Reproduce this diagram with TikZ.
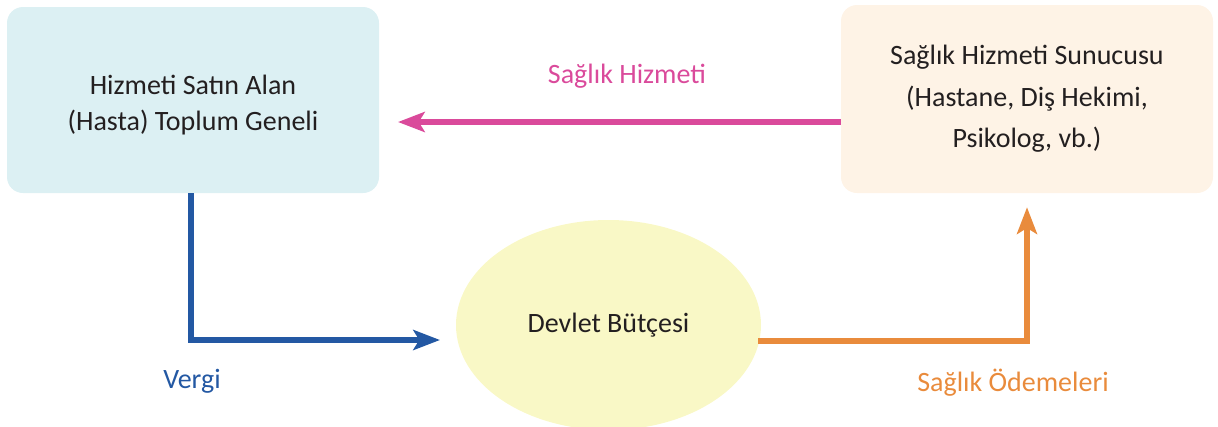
\documentclass[tikz,border=0pt]{standalone}
\usepackage{fontspec}
\setmainfont{Carlito}
\usetikzlibrary{shapes.geometric,arrows.meta,calc}
\definecolor{boxblue}{HTML}{DCF0F3}
\definecolor{boxcream}{HTML}{FEF3E6}
\definecolor{ellyellow}{HTML}{F9F8C6}
\definecolor{arrpink}{HTML}{DA4A9B}
\definecolor{arrblue}{HTML}{2358A3}
\definecolor{arrorange}{HTML}{E98B3C}
\definecolor{txtdark}{HTML}{231F20}
\begin{document}
\begin{tikzpicture}[x=0.75pt,y=-0.75pt,
  box/.style={rectangle,rounded corners=12pt,inner sep=0pt,align=center,
    text=txtdark,minimum width=279pt},
  elli/.style={ellipse,fill=ellyellow,inner sep=0pt,minimum width=228.75pt,
    minimum height=157.5pt,text=txtdark,font=\fontsize{21pt}{25pt}\selectfont},
  conn/.style={line width=4.5pt},
  tip/.style={-{Stealth[length=20pt,width=15pt,inset=4.5pt]}},
  lbl/.style={anchor=base,font=\fontsize{21pt}{25pt}\selectfont}]
\useasboundingbox (0,0) rectangle (1218,426);
\node[box,fill=boxblue,minimum height=139.5pt,
  font=\fontsize{21pt}{27pt}\selectfont] (lb) at (193,100)
  {\raisebox{-3.75pt}[\height][\depth]{\begin{tabular}{@{}c@{}}Hizmeti Satın Alan\\(Hasta) Toplum Geneli\end{tabular}}};
\node[box,fill=boxcream,minimum height=141pt,
  font=\fontsize{21pt}{31pt}\selectfont] (rb) at (1027,99)
  {Sağlık Hizmeti Sunucusu\\(Hastane, Diş Hekimi,\\Psikolog, vb.)};
\node[elli] (el) at (608.5,325) {Devlet Bütçesi};
\coordinate (pinkend) at (398,122);
\coordinate (blueend) at (440,340);
\draw[conn,tip,color=arrpink] ($(rb.west)+(0,23)$) -- (pinkend);
\draw[conn,tip,color=arrblue] ([xshift=-1.5pt]lb.south) |- (blueend);
\draw[conn,tip,color=arrorange] ($(el.east)+(-3,16)$) -| ($(rb.south)+(0,14)$);
\node[lbl,text=arrpink] (l1) at (627,83) {Sağlık Hizmeti};
\node[lbl,text=arrblue] (l2) at (192,388) {Vergi};
\node[lbl,text=arrorange] (l3) at (1013,391) {Sağlık Ödemeleri};
\end{tikzpicture}
\end{document}
